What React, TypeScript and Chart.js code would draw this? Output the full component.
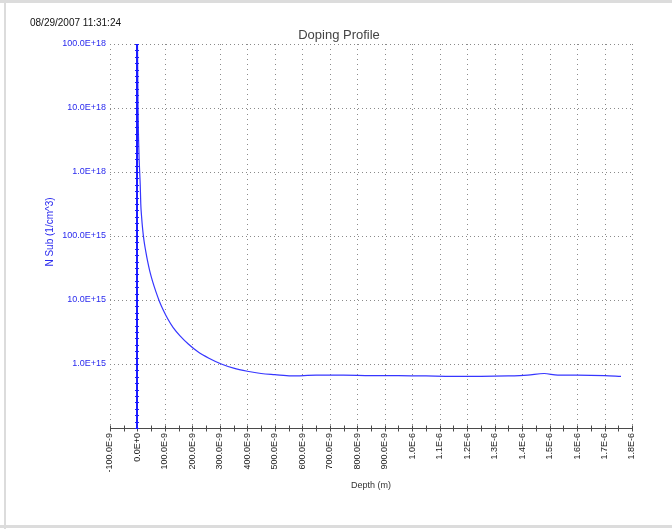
import { useEffect, useRef } from "react";
import { Chart, registerables } from "chart.js";

Chart.register(...registerables);

const W = 672;
const H = 529;
const FONT = "'Liberation Sans', Arial, sans-serif";

// Data: depth in nanometres, substrate doping in 1/cm^3
const depthNm = [
  0, 1, 2, 4, 6, 8, 10, 12, 15, 19, 24, 30, 37, 45, 55, 67, 80, 95, 110, 130,
  155, 185, 220, 260, 305, 350, 400, 450, 500, 560, 650, 750, 850, 950, 1050,
  1150, 1250, 1350, 1420, 1480, 1530, 1600, 1700, 1760,
];
const nSub = [
  1e20, 3.2e19, 1e19, 3.2e18, 1.6e18, 1e18, 6.3e17, 3.2e17, 2e17, 1.26e17,
  8.3e16, 5.8e16, 4e16, 2.8e16, 1.95e16, 1.35e16, 9.5e15, 6.8e15, 5.1e15,
  3.7e15, 2.75e15, 2.05e15, 1.55e15, 1.23e15, 1.0e15, 8.6e14, 7.7e14, 7.1e14,
  6.8e14, 6.5e14, 6.7e14, 6.7e14, 6.6e14, 6.6e14, 6.5e14, 6.4e14, 6.4e14,
  6.5e14, 6.7e14, 7.1e14, 6.7e14, 6.7e14, 6.6e14, 6.4e14,
];

const xTickValues = [
  -100e-9, 0, 100e-9, 200e-9, 300e-9, 400e-9, 500e-9, 600e-9, 700e-9, 800e-9,
  900e-9, 1.0e-6, 1.1e-6, 1.2e-6, 1.3e-6, 1.4e-6, 1.5e-6, 1.6e-6, 1.7e-6, 1.8e-6,
];
const xTickLabels = [
  "-100.0E-9", "0.0E+0", "100.0E-9", "200.0E-9", "300.0E-9", "400.0E-9",
  "500.0E-9", "600.0E-9", "700.0E-9", "800.0E-9", "900.0E-9", "1.0E-6",
  "1.1E-6", "1.2E-6", "1.3E-6", "1.4E-6", "1.5E-6", "1.6E-6", "1.7E-6", "1.8E-6",
];
const yTickValues = [1e14, 1e15, 1e16, 1e17, 1e18, 1e19, 1e20];
const yTickLabels = [
  "", "1.0E+15", "10.0E+15", "100.0E+15", "1.0E+18", "10.0E+18", "100.0E+18",
];

const chartTitle = "Doping Profile";
const timeStamp = "08/29/2007 11:31:24";
const xTitle = "Depth (m)";
const yTitle = "N Sub (1/cm^3)";

const BLUE_TEXT = "#2a2aee";
const BLUE_AXIS = "#1c1cff";
const BLUE_LINE = "#3636ff";

const decor = {
  id: "decor",
  beforeDraw(chart: any) {
    const ctx = chart.ctx;
    ctx.save();
    ctx.fillStyle = "#ffffff";
    ctx.fillRect(0, 0, W, H);
    ctx.fillStyle = "#dcdcdc";
    ctx.fillRect(0, 0, W, 3);
    ctx.fillRect(4, 0, 2, H);
    ctx.fillRect(0, 525, W, 3);
    ctx.restore();
  },
  beforeDatasetsDraw(chart: any) {
    const { ctx, chartArea: a, scales } = chart;
    const x = scales.x;
    const y = scales.y;
    ctx.save();
    ctx.strokeStyle = "#8a8a8a";
    ctx.lineWidth = 1;
    // horizontal dotted grid
    ctx.setLineDash([1, 3]);
    yTickValues.forEach((v) => {
      if (v === 1e14) return;
      const py = Math.round(y.getPixelForValue(v)) + 0.5;
      ctx.beginPath();
      ctx.moveTo(a.left, py);
      ctx.lineTo(a.right, py);
      ctx.stroke();
    });
    // vertical dotted grid
    ctx.setLineDash([1, 4]);
    xTickValues.forEach((v) => {
      const px = Math.round(x.getPixelForValue(v)) + 0.5;
      ctx.beginPath();
      ctx.moveTo(px, a.top);
      ctx.lineTo(px, a.bottom);
      ctx.stroke();
    });
    ctx.setLineDash([]);
    // x axis line
    ctx.strokeStyle = "#4a4a4a";
    const by = Math.round(a.bottom) + 0.5;
    ctx.beginPath();
    ctx.moveTo(a.left, by);
    ctx.lineTo(a.right, by);
    ctx.stroke();
    // x axis major and minor ticks (every 50 nm)
    for (let i = 0; i < xTickValues.length; i++) {
      const vals = [xTickValues[i]];
      if (i < xTickValues.length - 1) vals.push((xTickValues[i] + xTickValues[i + 1]) / 2);
      vals.forEach((v) => {
        const px = Math.round(x.getPixelForValue(v)) + 0.5;
        ctx.beginPath();
        ctx.moveTo(px, by - 3);
        ctx.lineTo(px, by + 3);
        ctx.stroke();
      });
    }
    ctx.restore();
  },
  afterDatasetsDraw(chart: any) {
    const { ctx, chartArea: a, scales } = chart;
    const x = scales.x;
    const y = scales.y;
    ctx.save();
    // blue Y axis at depth 0
    const x0 = Math.round(x.getPixelForValue(0));
    ctx.strokeStyle = BLUE_AXIS;
    ctx.lineWidth = 2;
    ctx.beginPath();
    ctx.moveTo(x0, a.top);
    ctx.lineTo(x0, a.bottom);
    ctx.stroke();
    ctx.lineWidth = 1;
    for (let e = 14; e < 20; e++) {
      for (let k = 0; k <= 10; k++) {
        const py = Math.round(y.getPixelForValue(Math.pow(10, e + k / 10))) + 0.5;
        ctx.beginPath();
        ctx.moveTo(x0 - 2, py);
        ctx.lineTo(x0 + 2, py);
        ctx.stroke();
      }
    }
    // texts
    ctx.textBaseline = "middle";
    ctx.fillStyle = "#111111";
    ctx.font = `10px ${FONT}`;
    ctx.textAlign = "left";
    ctx.fillText(timeStamp, 30, 23);
    ctx.fillStyle = "#444444";
    ctx.font = `13px ${FONT}`;
    ctx.textAlign = "center";
    ctx.fillText(chartTitle, 339, 35);
    ctx.fillStyle = "#333333";
    ctx.font = `9px ${FONT}`;
    ctx.fillText(xTitle, (a.left + a.right) / 2, 486);
    ctx.save();
    ctx.translate(50, 232);
    ctx.rotate(-Math.PI / 2);
    ctx.fillStyle = BLUE_TEXT;
    ctx.font = `10px ${FONT}`;
    ctx.fillText(yTitle, 0, 0);
    ctx.restore();
    ctx.restore();
  },
};

export default function App() {
  const ref = useRef<HTMLCanvasElement | null>(null);
  useEffect(() => {
    if (!ref.current) return;
    const points = depthNm.map((d, i) => ({ x: d * 1e-9, y: nSub[i] }));
    const chart = new Chart(ref.current, {
      type: "line",
      data: {
        datasets: [
          {
            data: points,
            borderColor: BLUE_LINE,
            borderWidth: 1.2,
            pointRadius: 0,
            cubicInterpolationMode: "monotone",
            fill: false,
          },
        ],
      },
      options: {
        responsive: false,
        animation: false,
        maintainAspectRatio: false,
        devicePixelRatio: 1,
        layout: { padding: { left: 0, top: 44, right: 40, bottom: 0 } },
        plugins: {
          legend: { display: false },
          title: { display: false },
          tooltip: { enabled: false },
        },
        scales: {
          x: {
            type: "linear",
            min: -100e-9,
            max: 1.8e-6,
            grid: { display: false, drawTicks: false, tickLength: 0 },
            border: { display: false },
            afterBuildTicks: (s: any) => {
              s.ticks = xTickValues.map((v) => ({ value: v }));
            },
            afterFit: (s: any) => {
              s.height = 101;
            },
            ticks: {
              autoSkip: false,
              maxRotation: 90,
              minRotation: 90,
              padding: 5,
              color: "#222222",
              font: { size: 9, family: FONT },
              callback: (_v: any, i: number) => xTickLabels[i],
            },
          },
          y: {
            type: "logarithmic",
            min: 1e14,
            max: 1e20,
            grid: { display: false, drawTicks: false, tickLength: 0 },
            border: { display: false },
            afterBuildTicks: (s: any) => {
              s.ticks = yTickValues.map((v) => ({ value: v }));
            },
            afterFit: (s: any) => {
              s.width = 110;
            },
            ticks: {
              autoSkip: false,
              padding: 4,
              color: BLUE_TEXT,
              font: { size: 9, family: FONT },
              callback: (_v: any, i: number) => yTickLabels[i],
            },
          },
        },
      },
      plugins: [decor],
    } as any);
    return () => chart.destroy();
  }, []);
  return (
    <div style={{ position: "absolute", left: 0, top: 0, width: W, height: H }}>
      <canvas ref={ref} width={W} height={H} style={{ display: "block", width: W, height: H }} />
    </div>
  );
}
